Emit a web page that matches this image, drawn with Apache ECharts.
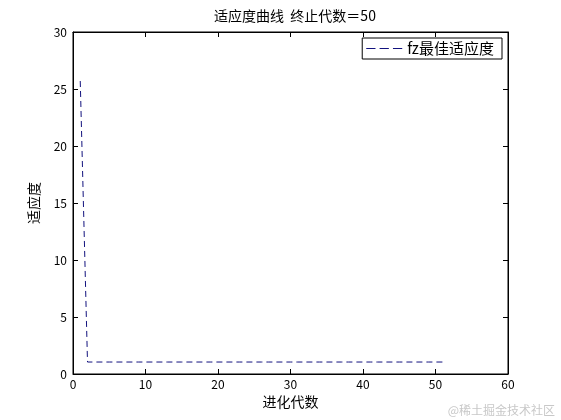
<!DOCTYPE html>
<html>
<head>
<meta charset="utf-8">
<script src="https://cdn.jsdelivr.net/npm/echarts@6/dist/echarts.min.js"></script>
<style>
  html, body { margin: 0; padding: 0; background: #fff; }
  #chart { width: 561px; height: 420px; }
</style>
</head>
<body>
<div id="chart"></div>
<script>
// generation number (x) and best fitness (y)
const generations = [
  1, 2, 3, 4, 5, 6, 7, 8, 9, 10,
  11, 12, 13, 14, 15, 16, 17, 18, 19, 20,
  21, 22, 23, 24, 25, 26, 27, 28, 29, 30,
  31, 32, 33, 34, 35, 36, 37, 38, 39, 40,
  41, 42, 43, 44, 45, 46, 47, 48, 49, 50, 51
];
const bestFitness = [
  25.7, 1.05, 1.05, 1.05, 1.05, 1.05, 1.05, 1.05, 1.05, 1.05,
  1.05, 1.05, 1.05, 1.05, 1.05, 1.05, 1.05, 1.05, 1.05, 1.05,
  1.05, 1.05, 1.05, 1.05, 1.05, 1.05, 1.05, 1.05, 1.05, 1.05,
  1.05, 1.05, 1.05, 1.05, 1.05, 1.05, 1.05, 1.05, 1.05, 1.05,
  1.05, 1.05, 1.05, 1.05, 1.05, 1.05, 1.05, 1.05, 1.05, 1.05, 1.05
];

const font = '"Noto Sans CJK SC", "DejaVu Sans", sans-serif';
const lineColor = "#12127e";

// fresh objects for each axis so nothing gets shared between them
function axisLine() {
  return { show: true, onZero: false, lineStyle: { color: "#000", width: 1 } };
}
function axisTick() {
  return { show: true, inside: true, length: 5, lineStyle: { color: "#000", width: 1 } };
}

window.addEventListener("DOMContentLoaded", function () {
  const chart = echarts.init(document.getElementById("chart"));

  const options = {
    backgroundColor: "#fff",
    animation: false,
    title: {
      text: "适应度曲线  终止代数＝50",
      left: 290,
      top: 4,
      textAlign: "center",
      textStyle: { fontFamily: font, fontSize: 14, fontWeight: "normal", color: "#000" },
    },
    grid: {
      left: 73,
      right: 53,
      top: 32,
      bottom: 46,
      show: true,
      borderColor: "#000",
      borderWidth: 1,
      backgroundColor: "transparent",
    },
    legend: {
      right: 59,
      top: 38,
      orient: "vertical",
      backgroundColor: "#fff",
      borderColor: "#000",
      borderWidth: 1,
      borderRadius: 0,
      padding: [3, 8, 3, 4],
      itemWidth: 36,
      itemHeight: 12,
      itemGap: 2,
      textStyle: { fontFamily: font, fontSize: 15, color: "#000" },
      data: [{
        name: "fz最佳适应度",
        icon: "path://M0,6 L9,6 L9,7 L0,7 Z M13,6 L22,6 L22,7 L13,7 Z M26,6 L35,6 L35,7 L26,7 Z",
      }],
    },
    xAxis: [
      {
        type: "value",
        min: 0,
        max: 60,
        interval: 10,
        name: "进化代数",
        nameLocation: "middle",
        nameGap: 20,
        nameTextStyle: { fontFamily: font, fontSize: 14, color: "#000" },
        axisLine: axisLine(),
        axisTick: axisTick(),
        axisLabel: { fontFamily: font, fontSize: 12, color: "#000", margin: 4 },
        splitLine: { show: false },
      },
      {
        type: "value",
        position: "top",
        min: 0,
        max: 60,
        interval: 10,
        axisLine: axisLine(),
        axisTick: axisTick(),
        axisLabel: { show: false },
        splitLine: { show: false },
      },
    ],
    yAxis: [
      {
        type: "value",
        min: 0,
        max: 30,
        interval: 5,
        name: "适应度",
        nameLocation: "middle",
        nameGap: 32,
        nameTextStyle: { fontFamily: font, fontSize: 14, color: "#000" },
        axisLine: axisLine(),
        axisTick: axisTick(),
        axisLabel: { fontFamily: font, fontSize: 12, color: "#000", margin: 6 },
        splitLine: { show: false },
      },
      {
        type: "value",
        position: "right",
        min: 0,
        max: 30,
        interval: 5,
        axisLine: axisLine(),
        axisTick: axisTick(),
        axisLabel: { show: false },
        splitLine: { show: false },
      },
    ],
    graphic: [
      {
        type: "text",
        right: 6,
        bottom: 4,
        style: { text: "@稀土掘金技术社区", fontFamily: font, fontSize: 12, fill: "#c8c8c8" },
      },
    ],
    series: [
      {
        name: "fz最佳适应度",
        type: "line",
        data: generations.map((g, i) => [g, bestFitness[i]]),
        showSymbol: false,
        symbol: "none",
        color: lineColor,
        lineStyle: { color: lineColor, width: 1, type: [6, 4] },
      },
      {
        // empty series so the top and right axes are drawn too
        type: "line",
        xAxisIndex: 1,
        yAxisIndex: 1,
        data: [],
        silent: true,
      },
    ],
  };

  chart.setOption(options);
});
</script>
</body>
</html>
